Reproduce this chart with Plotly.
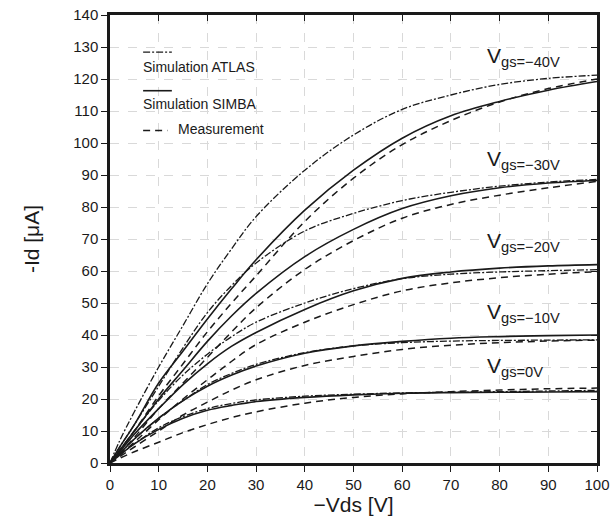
import plotly.graph_objects as go

vds = [0, 2, 5, 10, 15, 20, 25, 30, 40, 50, 60, 70, 80, 90, 100]

# -Id [uA] per gate voltage: ATLAS simulation, SIMBA simulation, measurement
atlas_40 = [0, 7, 16, 30, 43, 56, 67, 77, 91.5, 102.5, 110.5, 115, 118.3, 120.2, 121.2]
simba_40 = [0, 5, 12, 25, 35, 45, 54.5, 63.5, 79, 91.5, 101.5, 108.5, 113, 116.5, 119.2]
meas_40 = [0, 4, 10, 21, 31, 41, 50, 58.5, 75.5, 89, 99.5, 107, 112.8, 117, 120]

atlas_30 = [0, 5, 12, 24, 36, 47, 55.5, 62.5, 72.5, 78, 82, 84.6, 86.5, 87.8, 88.6]
simba_30 = [0, 4, 10, 20, 29, 38, 46, 53, 64.5, 73, 79.5, 83.5, 86, 87.5, 88.3]
meas_30 = [0, 3, 8, 17, 25, 33, 41, 48.5, 60.5, 69.5, 76.5, 80.8, 83.7, 86, 88]

atlas_20 = [0, 4, 10, 19.5, 27.5, 34, 39.5, 44, 50, 54.5, 57.6, 59, 59.7, 60.1, 60.4]
simba_20 = [0, 3.5, 9, 17, 24.5, 31, 36.5, 40.8, 48, 53.8, 57.7, 59.7, 60.9, 61.6, 62]
meas_20 = [0, 2.5, 6.5, 13.5, 20, 26, 31.8, 37, 44, 49.5, 53.8, 56.3, 57.9, 59, 59.8]

atlas_10 = [0, 3, 7.5, 14, 19.5, 24.5, 28, 30.8, 34.5, 36.6, 37.6, 38.1, 38.3, 38.4, 38.5]
simba_10 = [0, 3, 7.5, 14, 19.5, 24, 27.5, 30.3, 34.3, 36.6, 38, 39, 39.5, 39.8, 40]
meas_10 = [0, 2, 5, 10, 15, 19, 22.8, 26, 30.5, 33.3, 35.5, 36.8, 37.6, 38.1, 38.4]

atlas_0 = [0, 2.5, 6, 11, 14.5, 17, 18.6, 19.7, 20.9, 21.5, 21.9, 22.1, 22.3, 22.5, 22.7]
simba_0 = [0, 2.5, 6, 10.5, 14, 16.5, 18, 19.2, 20.5, 21.3, 21.8, 22, 22.1, 22.2, 22.3]
meas_0 = [0, 1.5, 3.5, 6.5, 9.5, 12, 14.2, 16, 18.7, 20.5, 21.6, 22.3, 22.8, 23.2, 23.4]

gate_labels = ["−40V", "−30V", "−20V", "−10V", "0V"]
label_pos_y = [127, 94.7, 69, 47, 30]
label_pos_x = 77

x_ticks = list(range(0, 101, 10))
y_ticks = list(range(0, 141, 10))

groups = [
    (atlas_40, simba_40, meas_40),
    (atlas_30, simba_30, meas_30),
    (atlas_20, simba_20, meas_20),
    (atlas_10, simba_10, meas_10),
    (atlas_0, simba_0, meas_0),
]

INK = "#1a1a1a"
FONT = "Liberation Sans, Arial, sans-serif"
DASHDOT = "7px,2px,2px,2px"
DASH = "7px,5px"

fig = go.Figure()
for a, s, m in groups:
    fig.add_trace(go.Scatter(x=vds, y=a, mode="lines", line_shape="spline",
                             line=dict(color=INK, width=1.3, dash=DASHDOT),
                             showlegend=False))
    fig.add_trace(go.Scatter(x=vds, y=s, mode="lines", line_shape="spline",
                             line=dict(color=INK, width=1.6), showlegend=False))
    fig.add_trace(go.Scatter(x=vds, y=m, mode="lines", line_shape="spline",
                             line=dict(color=INK, width=1.5, dash=DASH),
                             showlegend=False))

for lab, ly in zip(gate_labels, label_pos_y):
    fig.add_annotation(x=label_pos_x, y=ly, xref="x", yref="y",
                       text="V<sub>gs=" + lab + "</sub>", showarrow=False,
                       xanchor="left", yanchor="middle",
                       font=dict(size=21, color=INK, family=FONT))

# custom legend (sample line above / beside the text)
leg_font = dict(size=14, color=INK, family=FONT)
fig.add_shape(type="line", xref="paper", yref="paper", x0=0.068, x1=0.127,
              y0=0.917, y1=0.917, line=dict(color=INK, width=1.3, dash=DASHDOT))
fig.add_annotation(xref="paper", yref="paper", x=0.063, y=0.885, text="Simulation ATLAS",
                   showarrow=False, xanchor="left", yanchor="middle", font=leg_font)
fig.add_shape(type="line", xref="paper", yref="paper", x0=0.068, x1=0.127,
              y0=0.831, y1=0.831, line=dict(color=INK, width=1.6))
fig.add_annotation(xref="paper", yref="paper", x=0.063, y=0.802, text="Simulation SIMBA",
                   showarrow=False, xanchor="left", yanchor="middle", font=leg_font)
fig.add_shape(type="line", xref="paper", yref="paper", x0=0.068, x1=0.118,
              y0=0.742, y1=0.742, line=dict(color=INK, width=1.5, dash=DASH))
fig.add_annotation(xref="paper", yref="paper", x=0.136, y=0.745, text="Measurement",
                   showarrow=False, xanchor="left", yanchor="middle", font=leg_font)

axis_common = dict(showline=True, linecolor=INK, linewidth=2.5, mirror=True,
                   ticks="outside", ticklen=6, tickwidth=1.2, tickcolor=INK,
                   showgrid=True, gridcolor="#d9d9d9", griddash="dash", gridwidth=1,
                   zeroline=False, automargin=False,
                   tickfont=dict(size=15, color=INK, family=FONT))

fig.update_layout(
    width=610, height=526,
    margin=dict(l=110, r=13, t=15, b=63, autoexpand=False),
    paper_bgcolor="white", plot_bgcolor="white",
    font=dict(family=FONT, color=INK),
    xaxis=dict(range=[0, 100], tickvals=x_ticks,
               title=dict(text="−Vds [V]", font=dict(size=21, family=FONT, color=INK), standoff=6),
               **axis_common),
    yaxis=dict(range=[0, 140], tickvals=y_ticks,
               title=dict(text="-Id [μA]", font=dict(size=21, family=FONT, color=INK), standoff=28),
               **axis_common),
    xaxis2=dict(range=[0, 100], tickvals=x_ticks, overlaying="x", side="top",
                ticks="inside", ticklen=6, tickwidth=1.2, tickcolor=INK, automargin=False,
                showticklabels=False, showgrid=False, zeroline=False, showline=False),
    yaxis2=dict(range=[0, 140], tickvals=y_ticks, overlaying="y", side="right",
                ticks="inside", ticklen=6, tickwidth=1.2, tickcolor=INK, automargin=False,
                showticklabels=False, showgrid=False, zeroline=False, showline=False),
)
# invisible trace so the mirrored tick axes render
fig.add_trace(go.Scatter(x=[0], y=[0], xaxis="x2", yaxis="y2", mode="markers",
                         marker=dict(opacity=0), showlegend=False, hoverinfo="skip"))

fig.write_html("out.html", config={"displayModeBar": False},
               post_script="document.body.style.margin='0';document.body.style.overflow='hidden';")
